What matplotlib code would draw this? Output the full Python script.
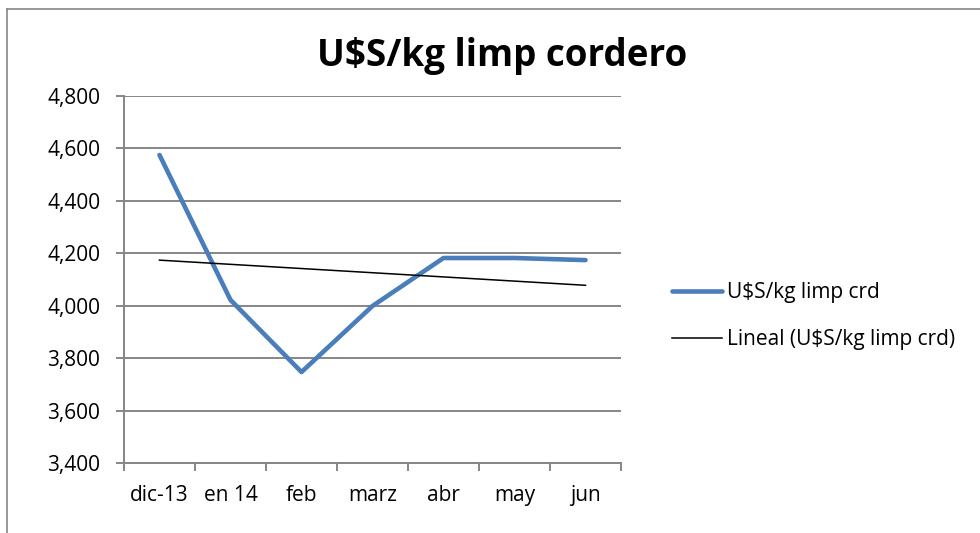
import matplotlib
matplotlib.use("Agg")
import matplotlib.pyplot as plt
from matplotlib.lines import Line2D
from matplotlib.ticker import FuncFormatter, MultipleLocator
import numpy as np

categories = ["dic-13", "en 14", "feb", "marz", "abr", "may", "jun"]
values = [4575, 4022, 3747, 3999, 4182, 4182, 4174]
title = "U$S/kg limp cordero"
series_name = "U$S/kg limp crd"
trend_name = "Lineal (U$S/kg limp crd)"

plt.rcParams['font.family'] = ['Open Sans', 'DejaVu Sans']

W, H = 980, 533
fig = plt.figure(figsize=(W / 100, H / 100), dpi=100)
ax = fig.add_axes([124 / W, 1 - 463 / H, (621 - 124) / W, (463 - 96) / H])

grey = "#868686"
blue = "#4A7EBB"
fs = 15

x = np.arange(len(categories))
ax.plot(x, values, color=blue, lw=3.3, solid_capstyle="round", zorder=3)
coef = np.polyfit(x, values, 1)
ax.plot(x, np.polyval(coef, x), color="black", lw=1.1, zorder=4)

ax.set_xlim(-0.5, len(categories) - 0.5)
ax.set_ylim(3400, 4800)
ax.yaxis.set_major_locator(MultipleLocator(200))
ax.yaxis.set_major_formatter(FuncFormatter(lambda v, p: f"{int(round(v)):,}"))
ax.set_xticks(x)
ax.set_xticklabels(categories)
ax.set_xticks(np.arange(-0.5, len(categories), 1.0), minor=True)
ax.tick_params(axis="x", which="major", length=0, pad=16, labelsize=fs, colors="black")
ax.tick_params(axis="x", which="minor", length=6, width=1.4, color=grey, direction="out")
ax.tick_params(axis="y", length=6, width=1.4, color=grey, direction="out", pad=11, labelsize=fs)
ax.grid(axis="y", color=grey, lw=1.4)
ax.set_axisbelow(True)
for s in ["top", "right"]:
    ax.spines[s].set_visible(False)
for s in ["left", "bottom"]:
    ax.spines[s].set_color(grey)
    ax.spines[s].set_linewidth(1.4)

fig.text(502 / W, 1 - 56 / H, title, ha="center", va="center",
         fontsize=26.5, fontweight="bold")

handles = [Line2D([], [], color=blue, lw=3.3, solid_capstyle="round"),
           Line2D([], [], color="black", lw=1.1)]
fig.legend(handles, [series_name, trend_name], loc="center left",
           bbox_to_anchor=(662 / W, 1 - 316 / H), frameon=False,
           fontsize=fs, handlelength=2.4, handletextpad=0.2, labelspacing=1.25,
           borderpad=0)

# chart border (left and top visible)
fig.add_artist(Line2D([7 / W, 7 / W], [0, 1 - 9 / H], color=grey, lw=1.2,
                      transform=fig.transFigure))
fig.add_artist(Line2D([7 / W, 1], [1 - 9 / H, 1 - 9 / H], color=grey, lw=1.2,
                      transform=fig.transFigure))

fig.savefig("out.png", dpi=100)
